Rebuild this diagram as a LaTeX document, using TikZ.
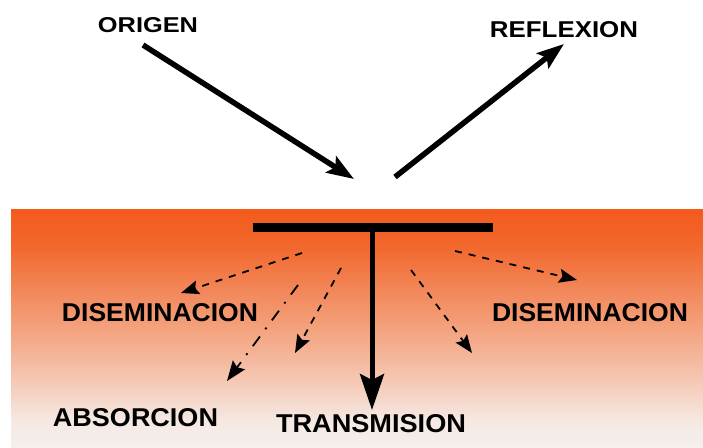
\documentclass[tikz,border=0pt]{standalone}
\usepackage{fontspec}
\setmainfont{Liberation Sans}
\usetikzlibrary{arrows.meta}
\definecolor{c0}{HTML}{F5EFED}
\definecolor{c1}{HTML}{F5E8E2}
\definecolor{c2}{HTML}{F5CDBB}
\definecolor{c3}{HTML}{F4A886}
\definecolor{c4}{HTML}{F28556}
\definecolor{c5}{HTML}{F2682E}
\definecolor{c6}{HTML}{F35A1C}
\pgfdeclareverticalshading{orng}{100bp}{color(0bp)=(c0); color(25bp)=(c0); color(30.7bp)=(c1); color(37.6bp)=(c2); color(48.1bp)=(c3); color(58.6bp)=(c4); color(67bp)=(c5); color(75bp)=(c6); color(100bp)=(c6)}
\newcommand{\lbl}[4][\bfseries]{\resizebox{#2pt}{#3pt}{#1#4}}
\begin{document}
\begin{tikzpicture}[x=1pt,y=-1pt,
  bigarrow/.style={line width=5.5pt,-{Stealth[length=27pt,width=19pt,inset=5pt]}},
  stemarrow/.style={line width=5pt,-{Stealth[length=36pt,width=24pt,inset=6pt]}},
  scatter/.style={line width=1.8pt,dash pattern=on 7pt off 7pt,-{Stealth[length=18pt,width=14pt,inset=3pt]}},
  absorb/.style={line width=1.8pt,dash pattern=on 12pt off 9pt on 2pt off 9pt,-{Stealth[length=20pt,width=15pt,inset=3pt]}},
  txt/.style={inner sep=0pt,anchor=center}]
\useasboundingbox (0,0) rectangle (703,447);
\fill[white] (0,0) rectangle (703,447);
% medium
\shade[shading=orng] (11,209) rectangle (703,447);
% labels
\node[txt] (origen) at (148,25.5) {\lbl{100}{15}{ORIGEN}};
\node[txt] (reflex) at (564,30) {\lbl{148}{16}{REFLEXION}};
\node[txt] (disl) at (160,313) {\lbl{196}{18}{DISEMINACION}};
\node[txt] (disr) at (590,313) {\lbl{196}{18}{DISEMINACION}};
\node[txt] (absor) at (135.5,417.5) {\lbl{165}{18}{ABSORCION}};
\node[txt] (trans) at (371,424) {\lbl{190}{18}{TRANSMISION}};
% surface bar
\node[fill=black,inner sep=0pt,minimum width=240pt,minimum height=9pt] (bar) at (373,227.5) {};
% incident and reflected rays
\coordinate (inA) at (143,45);
\coordinate (inB) at (354,179);
\coordinate (reA) at (395,177);
\coordinate (reB) at (564,44);
\draw[bigarrow] (inA) -- (inB);
\draw[bigarrow] (reA) -- (reB);
% transmission
\coordinate (trB) at (372,410);
\draw[stemarrow] (bar.south -| trB) -- (trB);
% scattered rays
\coordinate (s1a) at (302,253); \coordinate (s1b) at (181,293);
\coordinate (s2a) at (298,285); \coordinate (s2b) at (227,381);
\coordinate (s3a) at (341,268); \coordinate (s3b) at (295,353);
\coordinate (s4a) at (411,270); \coordinate (s4b) at (472,353);
\coordinate (s5a) at (455,251); \coordinate (s5b) at (577,280);
\draw[scatter] (s1a) -- (s1b);
\draw[absorb] (s2a) -- (s2b);
\draw[scatter] (s3a) -- (s3b);
\draw[scatter] (s4a) -- (s4b);
\draw[scatter] (s5a) -- (s5b);
\end{tikzpicture}
\end{document}
